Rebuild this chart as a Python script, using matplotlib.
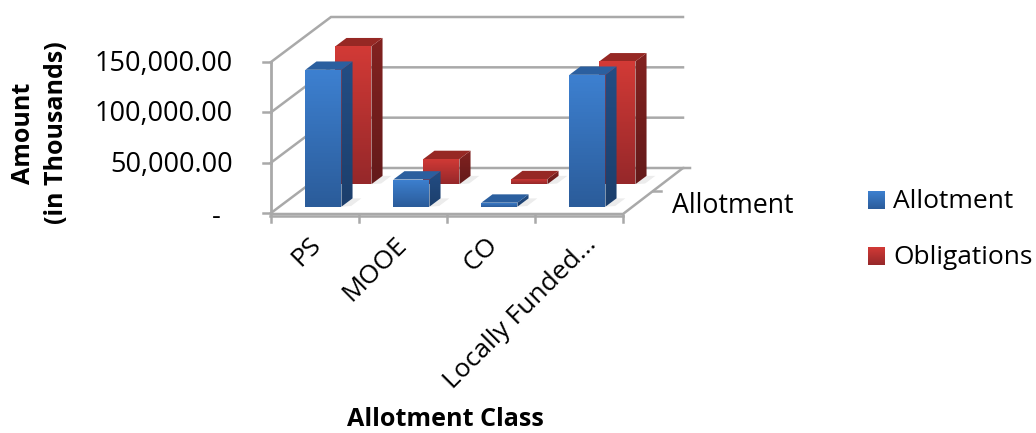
import matplotlib
matplotlib.use("Agg")
import matplotlib.pyplot as plt
import numpy as np
from matplotlib.patches import Polygon
from matplotlib.colors import LinearSegmentedColormap

categories = ["PS", "MOOE", "CO", "Locally Funded..."]
allotment = [136000, 27000, 4000, 131000]
obligations = [137000, 25000, 5000, 122000]
series_names = ["Allotment", "Obligations"]
y_ticks = [0, 50000, 100000, 150000]
y_tick_labels = ["-", "50,000.00", "100,000.00", "150,000.00"]

plt.rcParams["font.family"] = ["Open Sans", "DejaVu Sans"]

# oblique projection of the 3d box onto pixels
ORIGIN_X, ORIGIN_Y = 271, 213
CAT_W = 88
DEPTH_X, DEPTH_Y = 30, 22.5
VAL_SCALE = 151 / 150000


def project(cat, depth, value):
    return (ORIGIN_X + CAT_W * cat + DEPTH_X * depth,
            ORIGIN_Y - DEPTH_Y * depth - VAL_SCALE * value)


def gradient_poly(ax, pts, top, bottom, zorder):
    pts = np.array(pts)
    cmap = LinearSegmentedColormap.from_list("face", [top, bottom])
    x0, x1 = pts[:, 0].min(), pts[:, 0].max()
    y0, y1 = pts[:, 1].min(), pts[:, 1].max()
    grad = np.linspace(0, 1, 64).reshape(-1, 1)
    im = ax.imshow(grad, cmap=cmap, extent=(x0, x1, y1, y0), aspect="auto",
                   zorder=zorder, interpolation="bilinear")
    poly = Polygon(pts, closed=True, transform=ax.transData, fc="none", ec="none")
    ax.add_patch(poly)
    im.set_clip_path(poly)


fig = plt.figure(figsize=(10.36, 4.33), dpi=100)
ax = fig.add_axes([0, 0, 1, 1])
ax.set_xlim(0, 1036)
ax.set_ylim(433, 0)
ax.axis("off")

GRID = "#a9a9a9"
n_cat = len(categories)
n_ser = len(series_names)

# back wall and side wall gridlines
for v in y_ticks:
    x0, y0 = project(0, 0, v)
    x1, y1 = project(0, n_ser, v)
    x2, y2 = project(n_cat, n_ser, v)
    ax.plot([x0, x1, x2], [y0, y1, y2], color=GRID, lw=1.8, zorder=1,
            solid_joinstyle="miter")
    ax.plot([x0 - 8, x0], [y0, y0], color=GRID, lw=1.8, zorder=1)

x0, y0 = project(0, 0, 0)
x1, y1 = project(0, 0, y_ticks[-1])
ax.plot([x0, x1], [y0, y1], color=GRID, lw=2, zorder=1)

# floor edges and category ticks
xa, ya = project(n_cat, 0, 0)
xb, yb = project(n_cat, n_ser, 0)
ax.plot([x0, xa, xb, xb + 7], [y0 + 1, ya + 1, yb, yb], color=GRID, lw=1.8, zorder=1)
ax.plot([x0 - 1, xa], [y0 + 3, ya + 3], color=GRID, lw=1.8, zorder=1)
for i in range(n_cat + 1):
    tx, ty = project(i, 0, 0)
    ax.plot([tx, tx], [ty + 2, ty + 9], color=GRID, lw=1.8, zorder=1)
mx, my = project(n_cat, 1, 0)
ax.plot([mx, mx + 8], [my, my], color=GRID, lw=1.8, zorder=1)

# bars, back row first
styles = [
    {"front": ("#3d80d0", "#2b5c9a"), "side": ("#234d84", "#1c3f6c"), "top": "#2b5f9f"},
    {"front": ("#d23a36", "#96282a"), "side": ("#822220", "#641a1a"), "top": "#962824"},
]
BAR_X, BAR_W = 0.295, 0.41
BAR_D0, BAR_D = 0.28, 0.37

z = 3
for s in [1, 0]:
    vals = [allotment, obligations][s]
    st = styles[s]
    for i, v in enumerate(vals):
        xl, xr = i + BAR_X, i + BAR_X + BAR_W
        d0, d1 = s + BAR_D0, s + BAR_D0 + BAR_D
        # soft shadow on the floor
        shadow = [project(xr, d0, 0), project(xr + 0.1, d0 + 0.03, 0),
                  project(xr + 0.1, d1, 0), project(xr, d1, 0)]
        ax.add_patch(Polygon(shadow, fc="#ececec", ec="none", zorder=z))
        side = [project(xr, d0, 0), project(xr, d1, 0), project(xr, d1, v), project(xr, d0, v)]
        gradient_poly(ax, side, st["side"][0], st["side"][1], z + 1)
        top = [project(xl, d0, v), project(xr, d0, v), project(xr, d1, v), project(xl, d1, v)]
        ax.add_patch(Polygon(top, fc=st["top"], ec="none", zorder=z + 1))
        front = [project(xl, d0, 0), project(xr, d0, 0), project(xr, d0, v), project(xl, d0, v)]
        gradient_poly(ax, front, st["front"][0], st["front"][1], z + 2)
        z += 3

ax.set_xlim(0, 1036)
ax.set_ylim(433, 0)

# value axis labels, the zero dash sits further left
for v, lab in zip(y_ticks, y_tick_labels):
    tx, ty = project(0, 0, v)
    ax.text(tx - 50 if v == 0 else tx - 38, ty + (4 if v == 0 else 2), lab, ha="right",
            va="center", fontsize=19.5, color="black")

# category labels, nudged along the axis
nudge = [-7, -9, -6, 5]
for i, c in enumerate(categories):
    tx, ty = project(i + 0.5, 0, 0)
    ax.text(tx + nudge[i], ty + 19, c, rotation=45, rotation_mode="anchor", ha="right",
            va="top", fontsize=19, color="black")

ax.text(672, 206, series_names[0], ha="left", va="center", fontsize=19.3, color="black")

ax.text(40, 133, "Amount\n(in Thousands)", rotation=90, ha="center", va="center",
        fontsize=18, fontweight="bold", linespacing=1.4, color="black")
ax.text(445, 419, "Allotment Class", ha="center", va="center", fontsize=18.1,
        fontweight="bold", color="black")

# legend
for name, st, ly in zip(series_names, styles, [200, 256]):
    sw = [(868, ly - 9), (885, ly - 9), (885, ly + 9), (868, ly + 9)]
    gradient_poly(ax, sw, st["front"][0], st["front"][1], 100)
    ax.text(893, ly + 2, name, ha="left", va="center", fontsize=19, color="black")

ax.set_xlim(0, 1036)
ax.set_ylim(433, 0)
fig.savefig("out.png", dpi=100)
